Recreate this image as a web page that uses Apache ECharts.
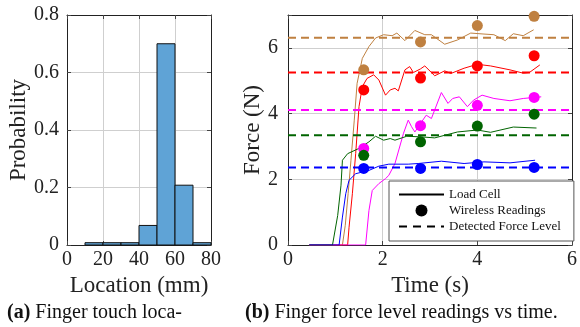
<!DOCTYPE html>
<html>
<head>
<meta charset="UTF-8">
<title>finger touch</title>
<script src="https://cdn.jsdelivr.net/npm/echarts@6/dist/echarts.min.js"></script>
<style>
  html, body { margin: 0; padding: 0; background: #fff; }
  #chart { width: 580px; height: 327px; }
</style>
</head>
<body>
<div id="chart"></div>
<script>
// (a) histogram of touch location
var binStart = [10, 20, 30, 40, 50, 60, 70];
var binWidth = 10;
var probability = [0.008, 0.008, 0.008, 0.068, 0.70, 0.208, 0.008];

// (b) force readings
var readingTimes = [1.6, 2.8, 4.0, 5.2];
var colorNames = ['brown', 'red', 'magenta', 'green', 'blue'];
var colors = ['#bf8040', '#ff0000', '#ff00ff', '#006400', '#0000ff'];
var detectedLevel = [6.31, 5.25, 4.11, 3.34, 2.36];
var readings = [
  [5.33, 6.18, 6.68, 6.96],
  [4.72, 5.08, 5.45, 5.76],
  [2.94, 3.63, 4.25, 4.49],
  [2.73, 3.14, 3.62, 3.98],
  [2.33, 2.33, 2.45, 2.36]
];
// load cell traces [time, force]
var loadBrown = [[0.45,0],[1.15,0],[1.21,0.6],[1.27,1.56],[1.33,2.58],[1.4,3.8],[1.46,4.92],[1.57,5.68],[1.71,6.04],[1.85,6.30],[2.02,6.40],[2.2,6.37],[2.3,6.45],[2.47,6.22],[2.68,6.53],[2.89,6.40],[3.03,6.40],[3.31,6.11],[3.58,6.24],[3.86,6.45],[4.14,6.42],[4.35,6.40],[4.59,6.22],[4.76,6.43],[4.97,6.37],[5.19,6.55]];
var loadRed = [[0.45,0],[1.26,0],[1.29,0.54],[1.36,1.56],[1.43,2.78],[1.5,4.21],[1.57,4.82],[1.67,5.07],[1.81,5.18],[1.92,5.02],[2.06,4.56],[2.16,4.72],[2.26,4.77],[2.33,4.69],[2.47,5.33],[2.57,5.43],[2.65,5.25],[2.8,5.36],[2.89,5.45],[3.1,5.15],[3.31,5.30],[3.44,5.22],[3.72,5.38],[4.0,5.50],[4.28,5.45],[4.69,5.33],[4.97,5.23],[5.1,5.25],[5.32,5.48]];
var loadMagenta = [[0.45,0],[1.64,0],[1.71,1.05],[1.78,1.66],[1.92,1.87],[2.06,2.02],[2.13,2.12],[2.26,2.48],[2.44,3.40],[2.54,3.80],[2.61,3.60],[2.68,3.44],[2.8,3.70],[2.92,3.95],[3.03,3.85],[3.24,4.64],[3.38,4.31],[3.48,4.46],[3.62,4.51],[3.79,4.21],[3.92,4.41],[4.1,4.56],[4.35,4.46],[4.69,4.39],[4.97,4.46],[5.35,4.51]];
var loadGreen = [[0.45,0],[0.94,0],[1.05,0.9],[1.12,1.82],[1.15,2.58],[1.26,2.78],[1.5,2.94],[1.71,3.14],[1.85,3.31],[2.02,3.19],[2.16,3.24],[2.26,3.19],[2.51,3.31],[2.82,3.29],[3.1,3.26],[3.58,3.44],[4.0,3.50],[4.28,3.43],[4.76,3.59],[5.25,3.56]];
var loadBlue = [[0.45,0],[1.08,0],[1.15,0.85],[1.22,1.56],[1.29,1.97],[1.43,2.17],[1.71,2.27],[1.92,2.40],[2.13,2.46],[2.54,2.46],[2.75,2.48],[3.24,2.55],[3.72,2.48],[4.14,2.53],[4.69,2.50],[5.22,2.58]];
var loadTraces = [loadBrown, loadRed, loadMagenta, loadGreen, loadBlue];

var yTicksRight = [0, 2, 4, 6];

var chart = echarts.init(document.getElementById('chart'));
var FONT = '"Liberation Serif", "DejaVu Serif", serif';

function frameAxis(grid, pos, extra) {
  var a = {
    gridIndex: grid,
    type: 'value',
    position: pos,
    axisLine: { show: true, onZero: false, lineStyle: { color: '#222', width: 1 } },
    axisTick: { show: true, inside: true, length: 4, lineStyle: { color: '#444' } },
    axisLabel: { show: false },
    splitLine: { show: false }
  };
  for (var k in extra) a[k] = extra[k];
  return a;
}

var series = [];

// histogram bars
series.push({
  type: 'custom',
  xAxisIndex: 0,
  yAxisIndex: 0,
  data: binStart.map(function (b, i) { return [b, b + binWidth, probability[i]]; }),
  renderItem: function (params, api) {
    var p0 = api.coord([api.value(0), api.value(2)]);
    var p1 = api.coord([api.value(1), 0]);
    return {
      type: 'rect',
      shape: { x: p0[0], y: p0[1], width: p1[0] - p0[0], height: p1[1] - p0[1] },
      style: { fill: '#5fa3d6', stroke: '#111', lineWidth: 1 }
    };
  },
  z: 3
});

// load cell traces
loadTraces.forEach(function (tr, i) {
  series.push({
    name: colorNames[i] + ' load',
    type: 'line',
    xAxisIndex: 2, yAxisIndex: 2,
    data: tr,
    symbol: 'none',
    lineStyle: { color: colors[i], width: 1 },
    z: 3
  });
});

// detected levels
detectedLevel.forEach(function (lv, i) {
  series.push({
    name: colorNames[i] + ' level',
    type: 'line',
    xAxisIndex: 2, yAxisIndex: 2,
    data: [[0, lv], [6, lv]],
    symbol: 'none',
    lineStyle: { color: colors[i], width: 2, type: [8, 5] },
    z: 4
  });
});

// wireless readings
readings.forEach(function (r, i) {
  series.push({
    name: colorNames[i] + ' reading',
    type: 'scatter',
    xAxisIndex: 2, yAxisIndex: 2,
    data: readingTimes.map(function (t, j) { return [t, r[j]]; }),
    symbol: 'circle',
    symbolSize: 11,
    itemStyle: { color: colors[i], opacity: 1 },
    z: 5
  });
});

// legend entries
series.push({ name: 'Load Cell', type: 'line', xAxisIndex: 2, yAxisIndex: 2, data: [], symbol: 'none', lineStyle: { color: '#000', width: 1 }, itemStyle: { color: '#000' } });
series.push({ name: 'Wireless Readings', type: 'scatter', xAxisIndex: 2, yAxisIndex: 2, data: [], symbol: 'circle', itemStyle: { color: '#000', opacity: 1 } });
series.push({ name: 'Detected Force Level', type: 'line', xAxisIndex: 2, yAxisIndex: 2, data: [], symbol: 'none', lineStyle: { color: '#000', width: 1.5, type: [8, 6] }, itemStyle: { color: '#000' } });

var option = {
  animation: false,
  backgroundColor: '#fff',
  textStyle: { fontFamily: FONT },
  title: [
    { left: 2, top: 298, text: '{b|(a)} Finger touch loca-',
      textStyle: { fontFamily: FONT, fontSize: 20, fontWeight: 'normal', color: '#111',
        rich: { b: { fontFamily: FONT, fontSize: 20, fontWeight: 'bold', color: '#111' } } } },
    { left: 240, top: 298, text: '{b|(b)} Finger force level readings vs time.',
      textStyle: { fontFamily: FONT, fontSize: 20, fontWeight: 'normal', color: '#111',
        rich: { b: { fontFamily: FONT, fontSize: 20, fontWeight: 'bold', color: '#111' } } } }
  ],
  legend: {
    data: [
      { name: 'Load Cell', itemStyle: { opacity: 0 } },
      { name: 'Wireless Readings', icon: 'circle', itemStyle: { color: '#000', opacity: 1 } },
      { name: 'Detected Force Level', itemStyle: { opacity: 0 } }
    ],
    orient: 'vertical',
    left: 389, top: 181,
    padding: [7, 13, 8, 9],
    itemGap: 3,
    itemWidth: 45,
    itemHeight: 12,
    backgroundColor: '#fff',
    borderColor: '#555',
    borderWidth: 1,
    borderRadius: 0,
    textStyle: { fontFamily: FONT, fontSize: 13, color: '#111' },
    z: 10
  },
  grid: [
    { left: 67, top: 15, width: 144, height: 230 },
    { left: 288, top: 15, width: 288, height: 230 }
  ],
  xAxis: [
    frameAxis(0, 'bottom', {
      min: 0, max: 80, interval: 20,
      name: 'Location (mm)', nameLocation: 'middle', nameGap: 25,
      nameTextStyle: { fontFamily: FONT, fontSize: 23, color: '#222' },
      axisLabel: { show: true, fontFamily: FONT, fontSize: 20, color: '#222', margin: 5 },
      splitLine: { show: true, lineStyle: { color: '#cfcfcf', width: 1 } }
    }),
    frameAxis(0, 'top', { min: 0, max: 80, interval: 20 }),
    frameAxis(1, 'bottom', {
      min: 0, max: 6, interval: 2,
      name: 'Time (s)', nameLocation: 'middle', nameGap: 25,
      nameTextStyle: { fontFamily: FONT, fontSize: 23, color: '#222' },
      axisLabel: { show: true, fontFamily: FONT, fontSize: 20, color: '#222', margin: 5 },
      splitLine: { show: true, lineStyle: { color: '#cfcfcf', width: 1 } }
    }),
    frameAxis(1, 'top', { min: 0, max: 6, interval: 2 })
  ],
  yAxis: [
    frameAxis(0, 'left', {
      min: 0, max: 0.8, interval: 0.2,
      name: 'Probability', nameLocation: 'middle', nameGap: 34, nameRotate: 90,
      nameTextStyle: { fontFamily: FONT, fontSize: 23, color: '#222' },
      axisLabel: { show: true, fontFamily: FONT, fontSize: 20, color: '#222', margin: 8 },
      splitLine: { show: true, lineStyle: { color: '#cfcfcf', width: 1 } }
    }),
    frameAxis(0, 'right', { min: 0, max: 0.8, interval: 0.2 }),
    frameAxis(1, 'left', {
      min: 0, max: 7, interval: 2,
      name: 'Force (N)', nameLocation: 'middle', nameGap: 22, nameRotate: 90,
      nameTextStyle: { fontFamily: FONT, fontSize: 23, color: '#222' },
      axisLabel: { show: true, fontFamily: FONT, fontSize: 20, color: '#222', margin: 10,
        formatter: function (v) { return yTicksRight.indexOf(v) >= 0 ? String(v) : ''; } },
      splitLine: { show: true, lineStyle: { color: '#cfcfcf', width: 1 } }
    }),
    frameAxis(1, 'right', { min: 0, max: 7, interval: 2 })
  ],
  series: series
};

chart.setOption(option);
</script>
</body>
</html>
